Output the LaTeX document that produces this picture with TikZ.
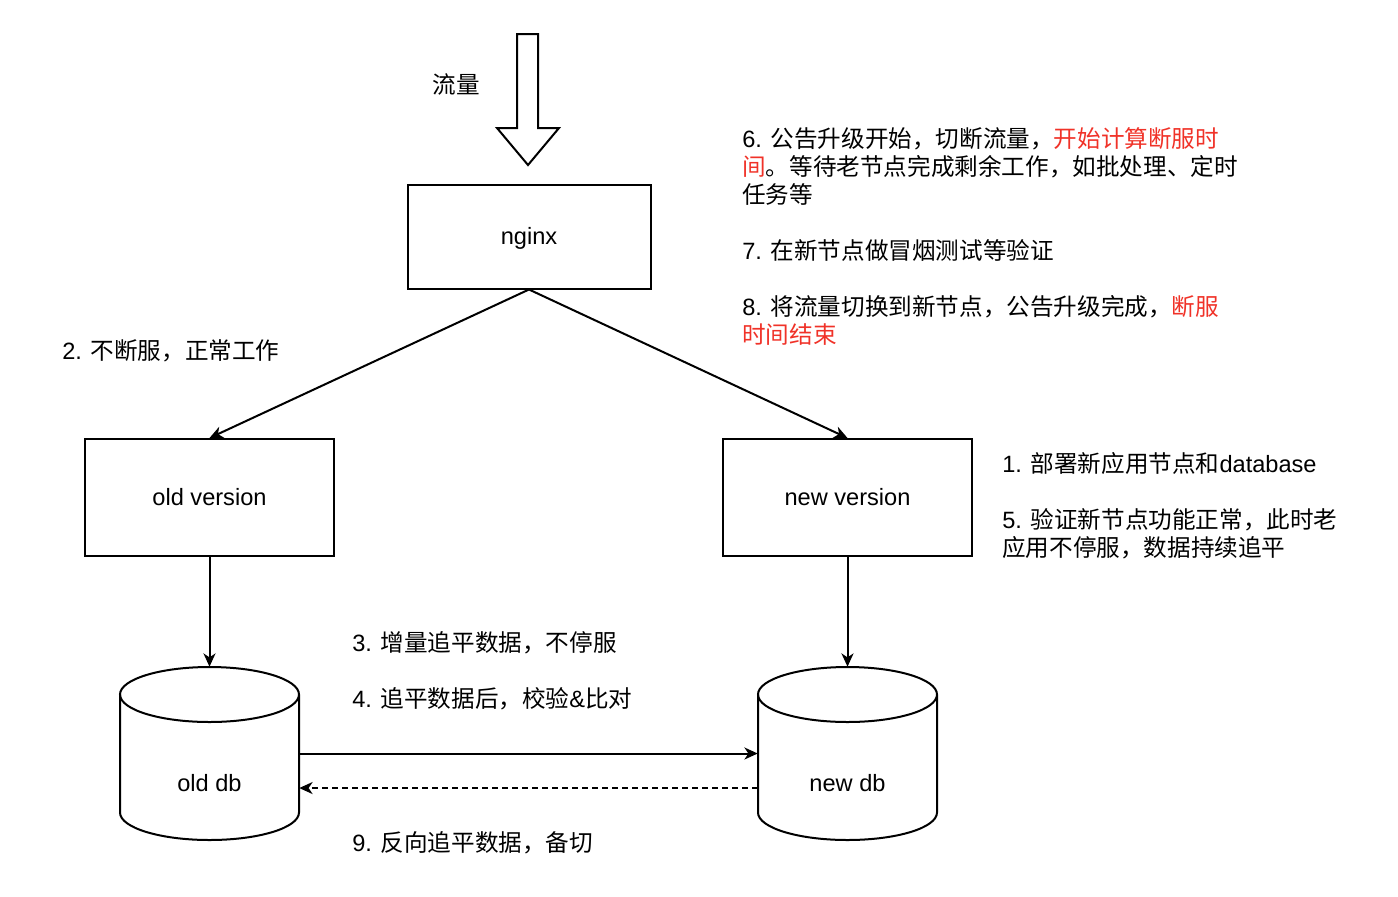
\documentclass[tikz,border=0pt]{standalone}
\usepackage{fontspec}
\setmainfont{Liberation Sans}
\newfontfamily\cjk{Noto Sans CJK SC}
\usetikzlibrary{arrows.meta}
\definecolor{hl}{RGB}{240,50,40}
\newcommand{\zh}[1]{{\cjk #1}}
\begin{document}
\begin{tikzpicture}[x=0.75pt,y=-0.75pt,
  every node/.style={font=\fontsize{17.7}{21}\selectfont},
  box/.style={draw, line width=1.5pt, inner sep=0pt, text depth=0pt, text height=12pt},
  lbl/.style={inner sep=0pt, align=left},
  ln/.style={line width=1.5pt},
  arr/.style={ln, -{Stealth[length=10pt,width=9pt,inset=3pt]}},
  dbnode/.style={inner sep=0pt, minimum width=134.25pt, minimum height=129.75pt}]
\useasboundingbox (0,0) rectangle (1398,896);

% big traffic arrow
\draw[ln, fill=white, line join=miter] (517,34) -- (538,34) -- (538,128) -- (559,128) -- (528,165) -- (497,128) -- (517,128) -- cycle;
\node[lbl] (flow) at (456,84) {\zh{流量}};

% boxes
\node[box, minimum width=182.25pt, minimum height=78pt] (nginx) at (529,236.5) {nginx};
\node[box, minimum width=186.75pt, minimum height=87.75pt] (old) at (209.5,497.5) {old version};
\node[box, minimum width=186.75pt, minimum height=87.75pt] (new) at (847.5,497.5) {new version};

% cylinders
\node[dbnode] (olddb) at (209.5,753.5) {};
\node[dbnode] (newdb) at (847.5,753.5) {};
\foreach \cx in {209.5,847.5}{
  \draw[ln] (\cx,694.5) ellipse [x radius=89.5, y radius=27.5];
  \draw[ln] (\cx-89.5,694.5) -- (\cx-89.5,812.5) arc[start angle=180, end angle=0, x radius=89.5, y radius=27.5] -- (\cx+89.5,694.5);
}
\node[lbl] (olddbl) at (209.5,783) {old db};
\node[lbl] (newdbl) at (847.5,783) {new db};

% connectors
\draw[arr] (nginx.south) -- (old.north);
\draw[arr] (nginx.south) -- (new.north);
\draw[arr] (old.south) -- (olddb.north);
\draw[arr] (new.south) -- (newdb.north);
\draw[arr] (olddb.east) -- (newdb.west);
\draw[arr, dashed, dash pattern=on 4.5pt off 3pt] ([yshift=-25.9pt]newdb.west) -- ([yshift=-25.9pt]olddb.east);

% labels
\node[lbl, anchor=west] (t2) at (62,351) {2. \zh{不断服，正常工作}};
\node[lbl, anchor=north west] (t678) at (742,127) {6. \zh{公告升级开始，切断流量，}\textcolor{hl}{\zh{开始计算断服时}}\\
\textcolor{hl}{\zh{间}}\zh{。等待老节点完成剩余工作，如批处理、定时}\\
\zh{任务等}\\[21pt]
7. \zh{在新节点做冒烟测试等验证}\\[21pt]
8. \zh{将流量切换到新节点，公告升级完成，}\textcolor{hl}{\zh{断服}}\\
\textcolor{hl}{\zh{时间结束}}};
\node[lbl, anchor=north west] (t15) at (1002,452) {1. \zh{部署新应用节点和}database\\[21pt]
5. \zh{验证新节点功能正常，此时老}\\
\zh{应用不停服，数据持续追平}};
\node[lbl, anchor=north west] (t34) at (352,631) {3. \zh{增量追平数据，不停服}\\[21pt]
4. \zh{追平数据后，校验}\&\zh{比对}};
\node[lbl, anchor=west] (t9) at (352,843) {9. \zh{反向追平数据，备切}};
\end{tikzpicture}
\end{document}
